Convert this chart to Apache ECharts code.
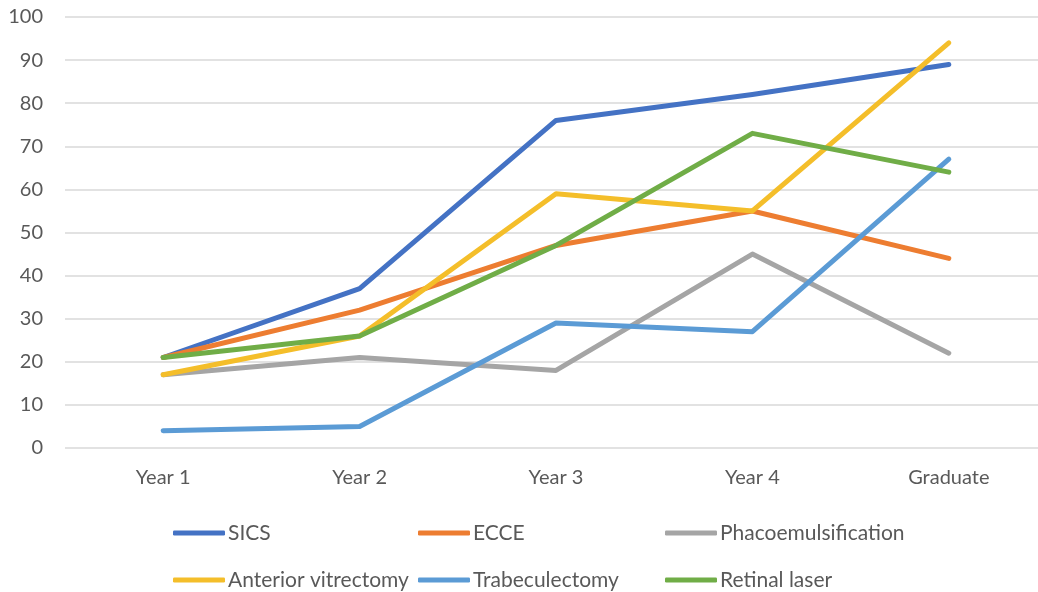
<!DOCTYPE html>
<html>
<head>
<meta charset="utf-8">
<script src="https://cdn.jsdelivr.net/npm/echarts@6/dist/echarts.min.js"></script>
<style>
  html, body { margin: 0; padding: 0; background: #fff; }
  #chart { width: 1038px; height: 592px; }
</style>
</head>
<body>
<div id="chart"></div>
<script>
// categories and series
var categories = ['Year 1', 'Year 2', 'Year 3', 'Year 4', 'Graduate'];
var sics = [21, 37, 76, 82, 89];
var ecce = [21, 32, 47, 55, 44];
var phaco = [17, 21, 18, 45, 22];
var antVit = [17, 26, 59, 55, 94];
var trab = [4, 5, 29, 27, 67];
var retinal = [21, 26, 47, 73, 64];

var seriesNames = ['SICS', 'ECCE', 'Phacoemulsification', 'Anterior vitrectomy', 'Trabeculectomy', 'Retinal laser'];
var seriesValues = [sics, ecce, phaco, antVit, trab, retinal];
var colors = ['#4472C4', '#ED7D31', '#A5A5A5', '#F4BE2A', '#5B9BD5', '#70AD47'];

var font = 'Lato';
var textColor = '#595959';

var chart = echarts.init(document.getElementById('chart'));

var series = [];
var legends = [];
// legend laid out in a 3 x 2 grid like the original
var legendLeft = [173, 418, 665];
var legendTop = [522, 569];
for (var i = 0; i < seriesNames.length; i++) {
  series.push({
    name: seriesNames[i],
    type: 'line',
    data: seriesValues[i],
    showSymbol: false,
    symbol: 'none',
    lineStyle: { width: 5, color: colors[i], cap: 'round', join: 'round' },
    itemStyle: { color: colors[i] },
    z: 2 + i
  });
  legends.push({
    data: [seriesNames[i]],
    left: legendLeft[i % 3],
    top: legendTop[Math.floor(i / 3)],
    padding: 0,
    icon: 'roundRect',
    itemWidth: 52,
    itemHeight: 5,
    selectedMode: false,
    textStyle: { fontFamily: font, fontSize: 21, color: textColor, lineHeight: 22, padding: [0, 0, 0, -2] }
  });
}

var option = {
  animation: false,
  color: colors,
  grid: { left: 65, right: -9, top: 17, bottom: 144, containLabel: false, outerBoundsMode: 'none' },
  legend: legends,
  xAxis: {
    type: 'category',
    data: categories,
    boundaryGap: true,
    axisLine: { show: false },
    axisTick: { show: false },
    axisLabel: { fontFamily: font, fontSize: 20, color: textColor, margin: 20 }
  },
  yAxis: {
    type: 'value',
    min: 0,
    max: 100,
    interval: 10,
    axisLine: { show: false },
    axisTick: { show: false },
    splitLine: { lineStyle: { color: '#D9D9D9', width: 1.5 } },
    axisLabel: { fontFamily: font, fontSize: 20, color: textColor, margin: 22 }
  },
  series: series
};

chart.setOption(option);
</script>
</body>
</html>
